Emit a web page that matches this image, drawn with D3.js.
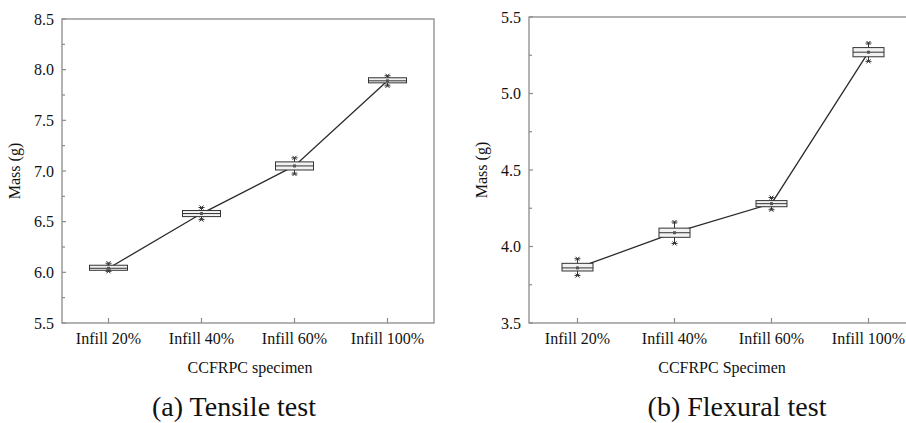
<!DOCTYPE html>
<html>
<head>
<meta charset="utf-8">
<script src="https://cdn.jsdelivr.net/npm/d3@7"></script>
<style>
  body { margin: 0; background: #fff; }
  svg text { font-family: "Liberation Serif", "Times New Roman", serif; fill: #111; }
  .frame { fill: none; stroke: #8a8a8a; stroke-width: 1.3; }
  .tick-line { stroke: #8a8a8a; stroke-width: 1.2; }
</style>
</head>
<body>
<div id="chart"></div>
<script>
/* Mass of CCFRPC specimens - box plots */

const categories = ["Infill 20%", "Infill 40%", "Infill 60%", "Infill 100%"];

// (a) tensile specimens
const tensileMean = [6.04, 6.58, 7.05, 7.89];
const tensileQ1 = [6.02, 6.55, 7.01, 7.87];
const tensileQ3 = [6.07, 6.61, 7.09, 7.92];
const tensileMin = [6.01, 6.52, 6.97, 7.84];
const tensileMax = [6.09, 6.64, 7.13, 7.94];
const tensileTicks = [5.5, 6.0, 6.5, 7.0, 7.5, 8.0, 8.5];

// (b) flexural specimens
const flexuralMean = [3.86, 4.09, 4.28, 5.27];
const flexuralQ1 = [3.84, 4.06, 4.26, 5.24];
const flexuralQ3 = [3.89, 4.12, 4.30, 5.30];
const flexuralMin = [3.81, 4.02, 4.24, 5.21];
const flexuralMax = [3.92, 4.16, 4.32, 5.33];
const flexuralTicks = [3.5, 4.0, 4.5, 5.0, 5.5];

const svg = d3.select("#chart").append("svg")
    .attr("width", 906)
    .attr("height", 423);

function createBoxPanel(opts) {
    const g = svg.append("g");
    const { left, right, top, bottom } = opts;

    const x = d3.scalePoint()
        .domain(categories)
        .range([left, right])
        .padding(0.5);

    const y = d3.scaleLinear()
        .domain(opts.domain)
        .range([bottom, top]);

    // minor ticks every quarter unit
    const minor = d3.range(opts.domain[0] + 0.25, opts.domain[1], 0.5);

    g.selectAll(".ymajor")
        .data(opts.ticks)
        .enter()
        .append("line")
        .attr("class", "tick-line")
        .attr("x1", left)
        .attr("x2", left + 4)
        .attr("y1", d => y(d))
        .attr("y2", d => y(d));

    g.selectAll(".yminor")
        .data(minor)
        .enter()
        .append("line")
        .attr("class", "tick-line")
        .attr("x1", left)
        .attr("x2", left + 3)
        .attr("y1", d => y(d))
        .attr("y2", d => y(d));

    g.selectAll(".ylabel")
        .data(opts.ticks)
        .enter()
        .append("text")
        .attr("x", left - 8)
        .attr("y", d => y(d))
        .attr("dy", "0.35em")
        .attr("text-anchor", "end")
        .attr("font-size", "16px")
        .text(d => d.toFixed(1));

    g.selectAll(".xtick")
        .data(categories)
        .enter()
        .append("line")
        .attr("class", "tick-line")
        .attr("x1", d => x(d))
        .attr("x2", d => x(d))
        .attr("y1", bottom)
        .attr("y2", bottom - 5);

    g.selectAll(".xlabel")
        .data(categories)
        .enter()
        .append("text")
        .attr("x", d => x(d))
        .attr("y", bottom + 21)
        .attr("text-anchor", "middle")
        .attr("font-size", "16px")
        .text(d => d);

    g.append("rect")
        .attr("class", "frame")
        .attr("x", left)
        .attr("y", top)
        .attr("width", right - left)
        .attr("height", bottom - top);

    // axis titles
    g.append("text")
        .attr("x", (left + right) / 2 + opts.titleShift)
        .attr("y", bottom + 50)
        .attr("text-anchor", "middle")
        .attr("font-size", "16px")
        .text(opts.xTitle);

    g.append("text")
        .attr("transform", `translate(${left - 42},${(top + bottom) / 2}) rotate(-90)`)
        .attr("text-anchor", "middle")
        .attr("font-size", "16px")
        .text("Mass (g)");

    // connecting line through the means
    const line = d3.line()
        .x((d, i) => x(categories[i]))
        .y(d => y(d));

    g.append("path")
        .datum(opts.mean)
        .attr("d", line)
        .attr("fill", "none")
        .attr("stroke", "#2b2b2b")
        .attr("stroke-width", 1.3);

    const rows = categories.map((c, i) => ({
        c, mean: opts.mean[i], q1: opts.q1[i], q3: opts.q3[i],
        min: opts.min[i], max: opts.max[i]
    }));
    const bw = opts.boxWidth;

    const box = g.selectAll(".box")
        .data(rows)
        .enter()
        .append("g");

    box.append("line")
        .attr("x1", d => x(d.c))
        .attr("x2", d => x(d.c))
        .attr("y1", d => y(d.min))
        .attr("y2", d => y(d.max))
        .attr("stroke", "#333")
        .attr("stroke-width", 1);

    box.append("rect")
        .attr("x", d => x(d.c) - bw / 2)
        .attr("y", d => y(d.q3))
        .attr("width", bw)
        .attr("height", d => y(d.q1) - y(d.q3))
        .attr("fill", "#f2f2f2")
        .attr("stroke", "#333")
        .attr("stroke-width", 1);

    box.append("line")
        .attr("x1", d => x(d.c) - bw / 2)
        .attr("x2", d => x(d.c) + bw / 2)
        .attr("y1", d => y(d.mean))
        .attr("y2", d => y(d.mean))
        .attr("stroke", "#333")
        .attr("stroke-width", 1);

    // whisker caps and outlier crosses
    ["min", "max"].forEach(k => {
        box.append("line")
            .attr("x1", d => x(d.c) - 3)
            .attr("x2", d => x(d.c) + 3)
            .attr("y1", d => y(d[k]))
            .attr("y2", d => y(d[k]))
            .attr("stroke", "#333")
            .attr("stroke-width", 1);
        box.append("path")
            .attr("d", d => {
                const cx = x(d.c), cy = y(d[k]);
                return `M${cx - 2},${cy - 2}L${cx + 2},${cy + 2}M${cx - 2},${cy + 2}L${cx + 2},${cy - 2}`;
            })
            .attr("stroke", "#333")
            .attr("stroke-width", 1);
    });

    box.append("rect")
        .attr("x", d => x(d.c) - 1.5)
        .attr("y", d => y(d.mean) - 1.5)
        .attr("width", 3)
        .attr("height", 3)
        .attr("fill", "#555");

    // caption under the panel
    svg.append("text")
        .attr("x", opts.captionX)
        .attr("y", 416)
        .attr("text-anchor", "middle")
        .attr("font-size", "28px")
        .text(opts.caption);
}

createBoxPanel({
    left: 62, right: 434, top: 19, bottom: 323,
    domain: [5.5, 8.5], ticks: tensileTicks,
    mean: tensileMean, q1: tensileQ1, q3: tensileQ3, min: tensileMin, max: tensileMax,
    boxWidth: 38, xTitle: "CCFRPC specimen", titleShift: 2,
    caption: "(a) Tensile test", captionX: 234
});

createBoxPanel({
    left: 529, right: 917, top: 17, bottom: 323,
    domain: [3.5, 5.5], ticks: flexuralTicks,
    mean: flexuralMean, q1: flexuralQ1, q3: flexuralQ3, min: flexuralMin, max: flexuralMax,
    boxWidth: 31, xTitle: "CCFRPC Specimen", titleShift: -1,
    caption: "(b) Flexural test", captionX: 737
});
</script>
</body>
</html>
